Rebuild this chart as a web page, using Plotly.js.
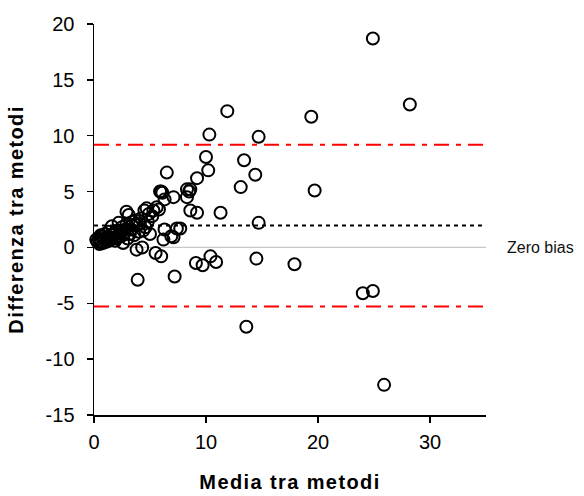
<!DOCTYPE html>
<html>
<head>
<meta charset="utf-8">
<script src="https://cdn.plot.ly/plotly-3.0.1.min.js"></script>
<style>
html,body{margin:0;padding:0;background:#fff;}
#chart{width:584px;height:496px;}
#chart .xtitle, #chart .ytitle{letter-spacing:1.4px;}
</style>
</head>
<body>
<div id="chart"></div>
<script>
// Bland-Altman: media tra metodi (x) vs differenza tra metodi (y)
const mediaTraMetodi = [
  0.3,0.4,0.5,0.6,0.7,0.8,0.9,1.0,1.1,1.2,1.3,1.5,1.6,1.7,1.9,2.0,2.2,2.3,2.5,2.6,
  2.7,2.9,2.9,3.1,3.0,3.3,3.5,3.6,3.8,3.8,4.0,4.2,4.3,4.5,4.6,4.7,4.8,5.0,5.2,5.5,
  5.6,5.8,5.9,6.0,6.1,6.3,6.0,6.2,6.3,6.5,6.9,7.1,7.1,7.2,7.4,7.7,3.9,8.3,8.3,8.5,
  8.6,8.6,9.2,9.2,9.1,9.7,10.0,10.2,10.3,10.4,10.9,11.3,11.9,13.1,13.4,13.6,14.4,14.5,14.7,14.7,
  17.9,19.4,19.7,24.0,24.9,24.9,25.9,28.2,
  0.2,0.5,0.8,1.1,1.4,1.8,2.1,2.4,2.8,3.2,3.4,3.7,4.1,4.4,4.9,5.3,0.6,1.3,2.0,2.6
];
const differenzaTraMetodi = [
  0.5,0.8,0.3,0.6,1.0,0.4,0.7,1.2,0.5,0.9,1.4,0.7,1.9,1.1,0.6,1.5,2.2,1.0,1.8,0.4,
  1.3,2.1,3.2,2.9,0.8,1.6,2.3,1.1,-0.2,2.0,1.4,2.6,0.0,3.3,1.8,3.5,2.3,1.2,2.8,-0.5,
  3.6,3.4,5.0,5.0,4.9,4.3,-0.8,0.7,1.6,6.7,1.0,4.5,0.9,-2.6,1.7,1.7,-2.9,4.5,5.2,5.0,
  5.2,3.3,3.1,6.2,-1.4,-1.6,8.1,6.9,10.1,-0.8,-1.3,3.1,12.2,5.4,7.8,-7.1,6.5,-1.0,9.9,2.2,
  -1.5,11.7,5.1,-4.1,-3.9,18.7,-12.3,12.8,
  0.7,0.5,1.0,0.8,0.9,1.3,1.0,1.5,1.6,1.2,2.0,2.4,2.1,1.5,3.0,3.3,1.1,0.6,0.8,1.1
];
const limiteSuperiore = 9.2;
const biasMedio = 1.96;
const limiteInferiore = -5.28;
const zeroBias = 0;
const xTicks = [0, 10, 20, 30];
const yTicks = [-15, -10, -5, 0, 5, 10, 15, 20];
const xRange = [0, 35];
const yRange = [-15, 20];

const trace = {
  x: mediaTraMetodi,
  y: differenzaTraMetodi,
  type: 'scatter',
  mode: 'markers',
  cliponaxis: false,
  marker: {symbol: 'circle-open', size: 12, color: '#000', line: {width: 2, color: '#000'}},
  hoverinfo: 'x+y'
};

const fontFam = 'Arial, "Liberation Sans", sans-serif';

const layout = {
  width: 584, height: 496,
  margin: {l: 94, r: 98, t: 24, b: 81},
  paper_bgcolor: '#fff', plot_bgcolor: '#fff',
  showlegend: false,
  font: {family: fontFam, color: '#000', size: 20},
  xaxis: {
    range: xRange, tickvals: xTicks, ticktext: xTicks.map(String),
    showgrid: false, zeroline: false,
    showline: true, linecolor: '#000', linewidth: 1.5,
    ticks: 'outside', ticklen: 6, tickwidth: 1.5, tickcolor: '#000',
    tickfont: {size: 20, family: fontFam},
    ticklabelstandoff: 2,
    title: {text: 'Media tra metodi', font: {size: 20, family: fontFam, weight: 'bold'}, standoff: 23}
  },
  yaxis: {
    range: yRange, tickvals: yTicks, ticktext: yTicks.map(String),
    showgrid: false, zeroline: false,
    showline: true, linecolor: '#000', linewidth: 1.5,
    ticks: 'outside', ticklen: 6, tickwidth: 1.5, tickcolor: '#000',
    tickfont: {size: 20, family: fontFam},
    ticklabelstandoff: 8,
    title: {text: 'Differenza tra metodi', font: {size: 20, family: fontFam, weight: 'bold'}, standoff: 16}
  },
  shapes: [
    {type: 'line', xref: 'x', yref: 'y', x0: xRange[0], x1: xRange[1], y0: zeroBias, y1: zeroBias,
     line: {color: '#c8c8c8', width: 1.2}, layer: 'below'},
    {type: 'line', xref: 'x', yref: 'y', x0: xRange[0], x1: 34.7, y0: biasMedio, y1: biasMedio,
     line: {color: '#000', width: 2, dash: '4px,4px'}, layer: 'below'},
    {type: 'line', xref: 'x', yref: 'y', x0: xRange[0], x1: xRange[1], y0: limiteSuperiore, y1: limiteSuperiore,
     line: {color: '#ff0000', width: 2, dash: '15px,7px,5px,7px'}, layer: 'below'},
    {type: 'line', xref: 'x', yref: 'y', x0: xRange[0], x1: xRange[1], y0: limiteInferiore, y1: limiteInferiore,
     line: {color: '#ff0000', width: 2, dash: '15px,7px,5px,7px'}, layer: 'below'}
  ],
  annotations: [
    {xref: 'x', yref: 'y', x: xRange[1], y: zeroBias, text: 'Zero bias', showarrow: false,
     xanchor: 'left', yanchor: 'middle', xshift: 19, font: {size: 16, family: fontFam, color: '#111'}}
  ]
};

Plotly.newPlot('chart', [trace], layout, {displayModeBar: false, staticPlot: true});
</script>
</body>
</html>
